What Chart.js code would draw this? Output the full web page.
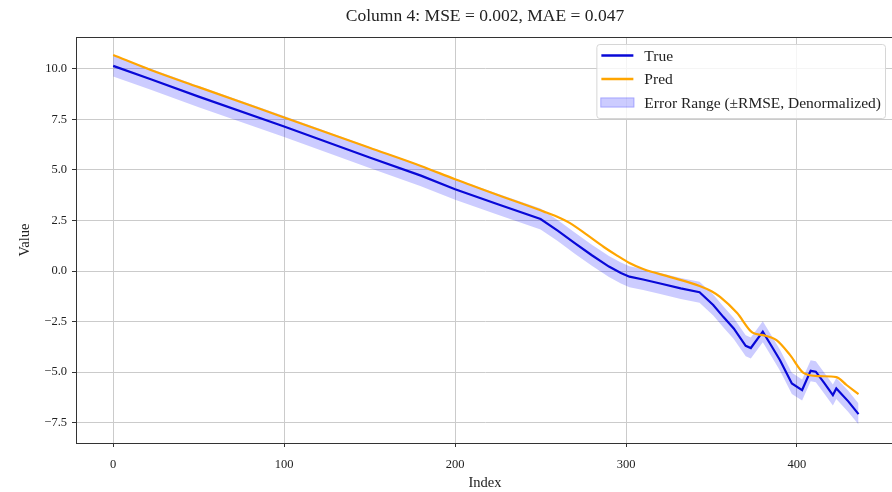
<!DOCTYPE html>
<html>
<head>
<meta charset="utf-8">
<script src="https://cdn.jsdelivr.net/npm/chart.js@4/dist/chart.umd.min.js"></script>
<style>
  html, body { margin: 0; padding: 0; overflow: hidden; background: #fff; }
  #wrap { width: 900px; height: 492px; }
</style>
</head>
<body>
<div id="wrap"><canvas id="chart" width="900" height="492"></canvas></div>
<script>
// values
const titleText = 'Column 4: MSE = 0.002, MAE = 0.047';
const rmse = 0.52; // half width of the shaded band

const trueIdx = [0, 22, 50, 100, 150, 180, 200, 225, 250, 260, 270, 280, 290, 297, 302, 310, 320, 332, 343, 351,
                 357, 363, 370, 373, 380, 385, 390, 397, 403, 408, 411, 416, 421, 423, 430, 436];
const trueVal = [10.15, 9.49, 8.63, 7.15, 5.62, 4.72, 4.05, 3.3, 2.57, 2.0, 1.38, 0.78, 0.22, -0.1, -0.28, -0.42, -0.62, -0.86, -1.05, -1.68,
                 -2.28, -2.84, -3.7, -3.81, -3.0, -3.7, -4.4, -5.56, -5.89, -4.93, -4.98, -5.55, -6.14, -5.81, -6.45, -7.08];

const predIdx = [0, 22, 50, 100, 150, 180, 200, 225, 252, 262, 267, 277, 287, 295, 302, 310, 326, 343, 350, 355,
                 365, 374, 380, 388, 396, 404, 413, 423, 429, 436];
const predVal = [10.69, 9.95, 9.1, 7.6, 6.1, 5.2, 4.54, 3.76, 2.94, 2.6, 2.38, 1.8, 1.19, 0.75, 0.4, 0.1, -0.3, -0.74, -1.0, -1.28,
                 -2.08, -3.05, -3.17, -3.42, -4.16, -5.05, -5.2, -5.25, -5.64, -6.09];

const xTicks = [0, 100, 200, 300, 400];
const yTicks = [-7.5, -5.0, -2.5, 0.0, 2.5, 5.0, 7.5, 10.0];

const serif = '"Liberation Serif", "DejaVu Serif", serif';
const pts = (xs, ys) => xs.map((x, i) => ({ x: x, y: ys[i] }));

// title centred over the plot area, frame and legend box like matplotlib
const extras = {
    id: 'extras',
    afterDraw(chart) {
        const ctx = chart.ctx;
        const a = chart.chartArea;
        ctx.save();
        ctx.fillStyle = '#222';
        ctx.font = '17.5px ' + serif;
        ctx.textAlign = 'center';
        ctx.textBaseline = 'middle';
        ctx.fillText(titleText, (a.left + a.right) / 2, 16);

        ctx.strokeStyle = '#333';
        ctx.lineWidth = 1;
        ctx.strokeRect(a.left + 0.5, a.top + 0.5, a.right - a.left, a.bottom - a.top);

        // legend
        const items = chart.data.datasets.filter(d => d.legendText);
        ctx.font = '15.5px ' + serif;
        const textW = Math.max(...items.map(d => ctx.measureText(d.legendText).width));
        const boxW = 48 + textW + 4;
        const boxH = 74;
        const bx = a.right - 9 - boxW;
        const by = a.top + 7;
        ctx.beginPath();
        ctx.roundRect(bx + 0.5, by + 0.5, boxW, boxH, 3);
        ctx.fillStyle = 'rgba(255,255,255,0.8)';
        ctx.fill();
        ctx.strokeStyle = '#d6d6d6';
        ctx.stroke();
        ctx.textAlign = 'left';
        items.forEach((d, i) => {
            const cy = by + 11.5 + i * 23.5;
            if (d.legendPatch) {
                ctx.fillStyle = d.backgroundColor;
                ctx.fillRect(bx + 4, cy - 5, 34, 10);
                ctx.strokeStyle = d.backgroundColor;
                ctx.strokeRect(bx + 4.5, cy - 4.5, 33, 9);
            } else {
                ctx.strokeStyle = d.borderColor;
                ctx.lineWidth = 2.5;
                ctx.beginPath();
                ctx.moveTo(bx + 5, cy);
                ctx.lineTo(bx + 37, cy);
                ctx.stroke();
                ctx.lineWidth = 1;
            }
            ctx.fillStyle = '#222';
            ctx.fillText(d.legendText, bx + 48, cy + 1);
        });
        ctx.restore();
    }
};

new Chart(document.getElementById('chart'), {
    type: 'line',
    data: {
        datasets: [
            {
                label: 'True', legendText: 'True',
                data: pts(trueIdx, trueVal),
                borderColor: 'rgb(8,8,215)', borderWidth: 2.2,
                pointRadius: 0, fill: false, order: 1
            },
            {
                label: 'Pred', legendText: 'Pred',
                data: pts(predIdx, predVal),
                borderColor: '#ffa500', borderWidth: 2.2,
                pointRadius: 0, fill: false, order: 0,
                cubicInterpolationMode: 'monotone'
            },
            {
                label: 'lower',
                data: pts(trueIdx, trueVal.map(v => v - rmse)),
                borderWidth: 0, borderColor: 'rgba(0,0,0,0)',
                pointRadius: 0, fill: false, order: 3
            },
            {
                label: 'Error Range', legendText: 'Error Range (\u00b1RMSE, Denormalized)', legendPatch: true,
                data: pts(trueIdx, trueVal.map(v => v + rmse)),
                borderWidth: 0, borderColor: 'rgba(0,0,0,0)',
                backgroundColor: 'rgba(0,0,255,0.2)',
                pointRadius: 0, fill: '-1', order: 2
            }
        ]
    },
    options: {
        responsive: false,
        animation: false,
        layout: { padding: { top: 37, right: 6, left: 0, bottom: 0 } },
        plugins: {
            legend: { display: false },
            tooltip: { enabled: false },
            title: { display: false }
        },
        scales: {
            x: {
                type: 'linear',
                min: -21.75,
                max: 456.75,
                afterBuildTicks: s => { s.ticks = xTicks.map(v => ({ value: v })); },
                afterFit: s => { s.height = 49; },
                ticks: { color: '#222', font: { family: serif, size: 12.5 }, padding: 10, maxRotation: 0 },
                grid: { color: '#cbcbcb', tickLength: 4, tickColor: '#333' },
                border: { color: '#333' },
                title: { display: true, text: 'Index', color: '#222', font: { family: serif, size: 14.5 }, padding: { top: 0, bottom: 0 } }
            },
            y: {
                min: -8.51,
                max: 11.58,
                afterBuildTicks: s => { s.ticks = yTicks.map(v => ({ value: v })); },
                afterFit: s => { s.width = 76; },
                ticks: { color: '#222', font: { family: serif, size: 12.5 }, padding: 5, callback: v => v.toFixed(1).replace('-', '\u2212') },
                grid: { color: '#cbcbcb', tickLength: 4, tickColor: '#333' },
                border: { color: '#333' },
                title: { display: true, text: 'Value', color: '#222', font: { family: serif, size: 14.5 }, padding: { top: 16, bottom: 0 } }
            }
        }
    },
    plugins: [extras]
});
</script>
</body>
</html>
